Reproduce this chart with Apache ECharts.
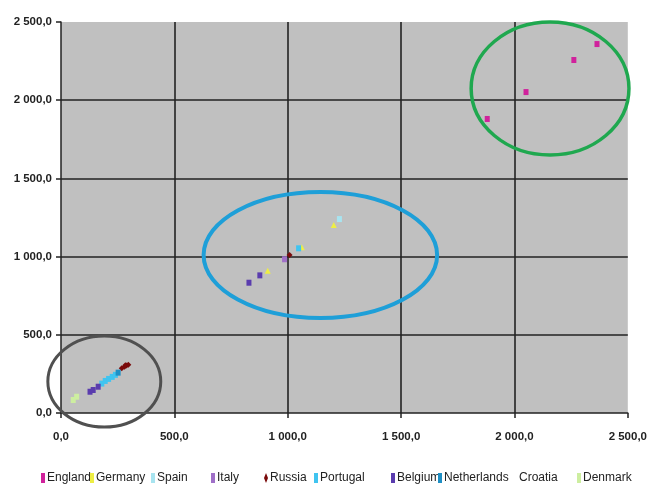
<!DOCTYPE html>
<html>
<head>
<meta charset="utf-8">
<script src="https://cdn.jsdelivr.net/npm/echarts@6/dist/echarts.min.js"></script>
<style>html,body{margin:0;padding:0;background:#fff;}#c{width:650px;height:485px;}</style>
</head>
<body>
<div id="c"></div>
<script>
// ---- data ----
var seriesNames = ['England','Germany','Spain','Italy','Russia','Portugal','Belgium','Netherlands','Croatia','Denmark'];
var seriesColors = ['#d0229c','#eeee44','#a8e4f0','#a070c8','#7a0a0a','#40c4f0','#5a3cae','#1f8fc4','#ffffff','#cdeea0'];
var england = [[1880,1880],[2051,2052],[2262,2257],[2364,2359]];
var germany = [[912,910],[1062,1059],[1203,1202]];
var spain = [[1228,1240]];
var italy = [[986,983]];
var russia = [[1008,1010],[268,286],[280,296],[289,303],[297,308],[284,306]];
var portugal = [[1048,1053],[180,188],[195,205],[210,218],[226,231],[240,244]];
var belgium = [[829,833],[877,880],[128,136],[142,147],[164,168]];
var netherlands = [[252,258]];
var croatia = [];
var denmark = [[54,83],[69,104]];
var seriesData = [england,germany,spain,italy,russia,portugal,belgium,netherlands,croatia,denmark];
var seriesSymbols = ['rect','triangle','rect','rect','diamond','rect','rect','rect','rect','rect'];
var xTicks = [0,500,1000,1500,2000,2500];
var yTicks = [0,500,1000,1500,2000,2500];
// annotation ellipses in data units: [cx, cy, rx, ry]
var ellipses = [[191,201,249,291],[1144,1010,515,403],[2157,2075,348,425]];
var ellipseColors = ['#505050','#1e9fd8','#1fa84f'];

// ---- layout ----
var legendLefts = [41,90,151,211,264,314,391,438,513,577];
var legendIcons = ['rect','rect','rect','rect','diamond','rect','rect','rect','rect','rect'];
var ellipseWidths = [3,4,3.5];

function fmt(v){
  var s = v.toFixed(1).replace('.', ',');
  var parts = s.split(',');
  var ip = parts[0];
  if (ip.length > 3) ip = ip.slice(0, ip.length-3) + ' ' + ip.slice(ip.length-3);
  return ip + ',' + parts[1];
}

var chart = echarts.init(document.getElementById('c'), null, {renderer:'canvas'});
var axisLabelStyle = {fontFamily:'Liberation Sans, Arial, sans-serif', fontWeight:'bold', fontSize:11.5, color:'#222'};
var option = {
  animation:false,
  backgroundColor:'#ffffff',
  grid:{left:61, right:21, top:22, bottom:72, show:true, backgroundColor:'#c0c0c0', borderWidth:0},
  xAxis:{
    type:'value', min:0, max:2500, interval:500,
    axisLine:{show:true, onZero:false, lineStyle:{color:'#222', width:1.5}},
    axisTick:{show:true, length:5, lineStyle:{color:'#222', width:1.5}},
    axisLabel:Object.assign({margin:18, formatter:function(v){return xTicks.indexOf(v)>=0?fmt(v):'';}}, axisLabelStyle),
    splitLine:{show:true, showMinLine:false, showMaxLine:false, lineStyle:{color:'#222', width:1.6}}
  },
  yAxis:{
    type:'value', min:0, max:2500, interval:500,
    axisLine:{show:true, onZero:false, lineStyle:{color:'#222', width:1.5}},
    axisTick:{show:true, length:5, lineStyle:{color:'#222', width:1.5}},
    axisLabel:Object.assign({margin:9, formatter:function(v){return yTicks.indexOf(v)>=0?fmt(v):'';}}, axisLabelStyle),
    splitLine:{show:true, showMinLine:false, showMaxLine:false, lineStyle:{color:'#222', width:1.6}}
  },
  legend: seriesNames.map(function(n,i){
    return {data:[n], left:legendLefts[i], top:472, padding:0, itemWidth:4, itemHeight:10, icon:legendIcons[i],
      textStyle:{fontFamily:'Liberation Sans, Arial, sans-serif', fontSize:12, color:'#222', padding:[0,0,0,-3]}};
  }),
  series: seriesNames.map(function(n,i){
    return {name:n, type:'scatter', data:seriesData[i], symbol:seriesSymbols[i],
      symbolSize: seriesSymbols[i]==='rect' ? [5,6] : 6,
      itemStyle:{color:seriesColors[i], opacity:1}, z:3};
  })
};
chart.setOption(option);

var g = ellipses.map(function(e,i){
  var c = chart.convertToPixel({gridIndex:0}, [e[0], e[1]]);
  var p = chart.convertToPixel({gridIndex:0}, [e[0]+e[2], e[1]+e[3]]);
  return {type:'ellipse', z:10, silent:true,
    shape:{cx:c[0], cy:c[1], rx:Math.abs(p[0]-c[0]), ry:Math.abs(c[1]-p[1])},
    style:{fill:null, stroke:ellipseColors[i], lineWidth:ellipseWidths[i]}};
});
chart.setOption({graphic:g});
</script>
</body>
</html>
